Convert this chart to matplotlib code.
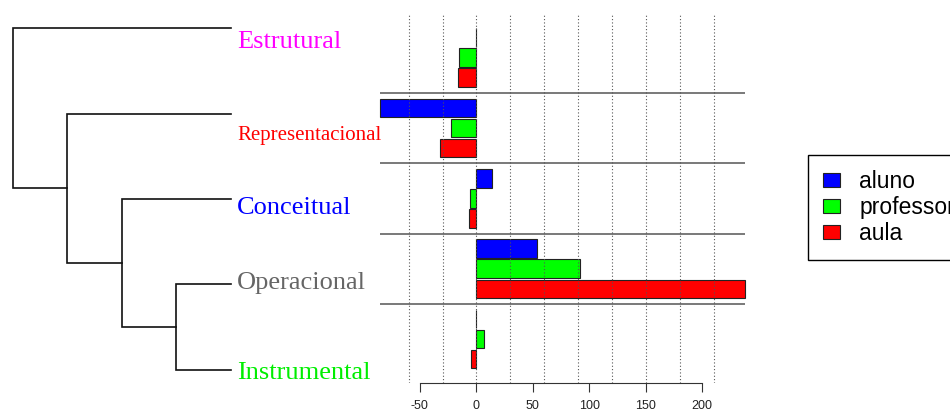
import numpy as np
import matplotlib.pyplot as plt

plt.rcParams['font.family'] = ['Liberation Sans', 'DejaVu Sans']
plt.rcParams['axes.unicode_minus'] = False

# data
categories = ['Estrutural', 'Representacional', 'Conceitual', 'Operacional', 'Instrumental']
label_colors = ['#FF00FF', '#FF0000', '#0000FF', '#666666', '#00EE00']
aluno = [0, -85, 13.5, 53.5, -0.4]
professor = [-15, -22.5, -5.5, 91.5, 7]
aula = [-16.5, -32, -6.5, 237.5, -4.5]
series_names = ['aluno', 'professor', 'aula']
series_colors = ['#0000FF', '#00FF00', '#FF0000']

# dendrogram merges: (left node, right node, height); new nodes numbered after the leaves
merges = [(3, 4, 1), (2, 5, 2), (1, 6, 3), (0, 7, 4)]

fig = plt.figure(figsize=(9.5, 4.12), dpi=100)

# >>>>>>>>>>>>>>>>>>>>>>>>>>>>>>>>>>>>>>>>>>>>>>>>>>> Dendrogram >>>>>>>>>>>>>>>>>>>>>>>>>>>>>>>>>>>>>>>>>>>>>>>>>>> #
axd = fig.add_axes([0, 0, 0.4, 1])
pos = {i: float(i) for i in range(len(categories))}
hgt = {i: 0.0 for i in range(len(categories))}
for k, (a, b, h) in enumerate(merges):
    axd.plot([hgt[a], h, h, hgt[b]], [pos[a], pos[a], pos[b], pos[b]], color='#111111', lw=1.2,
             solid_joinstyle='miter')
    node = len(categories) + k
    pos[node] = (pos[a] + pos[b]) / 2
    hgt[node] = h

# labels sit a little below their leaf (baseline offsets in leaf units)
label_offsets = [0.231, 0.309, 0.179, 0.058, 0.112]
label_sizes = [19, 15, 19, 19, 19]
for i, name in enumerate(categories):
    axd.text(-0.11, i + label_offsets[i], name, color=label_colors[i], fontsize=label_sizes[i],
             family='Liberation Serif', ha='left', va='baseline')
axd.set_xlim(4.23, -2.73)
axd.set_ylim(4.4956, -0.3316)
axd.axis('off')

# >>>>>>>>>>>>>>>>>>>>>>>>>>>>>>>>>>>>>>>>>>>>>>>>>>> Bar chart >>>>>>>>>>>>>>>>>>>>>>>>>>>>>>>>>>>>>>>>>>>>>>>>>>>> #
ax = fig.add_axes([0.3851, 0.0706, 0.414, 0.8959])
group = 3.5
starts = np.arange(len(categories)) * group
bars = []
for j, (vals, color) in enumerate(zip([aluno, professor, aula], series_colors)):
    b = ax.barh(starts + j + 0.5, vals, height=0.92, color=color, edgecolor='#222222', lw=0.8, zorder=2)
    bars.append(b)

allvals = aluno + professor + aula
lo, hi = min(allvals), max(allvals)
ax.hlines(starts[1:] - 0.25, lo, hi, color='#555555', lw=1.1, zorder=3)
for v in np.arange(-60, 211, 30):
    ax.axvline(v, color='#555555', lw=0.8, ls=(0, (1, 2)), zorder=4)

r = hi - lo
ax.set_xlim(lo - 0.04 * r, hi + 0.04 * r)
ytop = len(categories) * group - 0.5
ax.set_ylim(ytop + 0.04 * ytop, -0.04 * ytop)

for s in ['top', 'right', 'left']:
    ax.spines[s].set_visible(False)
ax.spines['bottom'].set_bounds(-50, 200)
ax.spines['bottom'].set_color('#333333')
ax.spines['bottom'].set_linewidth(0.8)
ax.set_xticks(range(-50, 201, 50))
ax.set_yticks([])
ax.tick_params(axis='x', length=6.5, width=0.8, pad=5.5, labelsize=9, color='#333333', labelcolor='#222222')
ax.patch.set_visible(False)

# legend box runs past the right edge, as in the original
fig.legend(bars, series_names, loc='upper left', bbox_to_anchor=(808 / 950, 1 - 155 / 412),
           borderaxespad=0, fontsize=16.5, frameon=True, fancybox=False, framealpha=1,
           edgecolor='black', handlelength=0.72, handleheight=0.55, handletextpad=0.85,
           labelspacing=0.13, borderpad=0.66)
fig.legends[0].get_frame().set_linewidth(1.0)

plt.savefig('out.png', dpi=100)
